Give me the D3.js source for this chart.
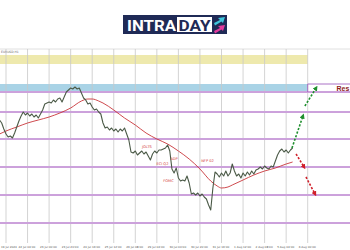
<!DOCTYPE html>
<html>
<head>
<meta charset="utf-8">
<script src="https://cdn.jsdelivr.net/npm/d3@7"></script>
<style>
  body { margin: 0; background: #fff; }
  svg { display: block; }
</style>
</head>
<body>
<div id="chart"></div>
<script>
// closing prices, one per bar, first bar is -3
var firstBar = -3;
var closes = [
  1.0929, 1.0926, 1.0920, 1.0915, 1.0912, 1.0913, 1.0911, 1.0916, 1.0922, 1.0928,
  1.0933, 1.0937, 1.0934, 1.0936, 1.0933, 1.0935, 1.0932, 1.0934, 1.0931, 1.0935,
  1.0939, 1.0945, 1.0946, 1.0947, 1.0946, 1.0949, 1.0947, 1.0950, 1.0951, 1.0947,
  1.0952, 1.0957, 1.0959, 1.0961, 1.0960, 1.0962, 1.0960, 1.0961, 1.0956, 1.0951,
  1.0949, 1.0945, 1.0946, 1.0942, 1.0939, 1.0940, 1.0937, 1.0935, 1.0926, 1.0921,
  1.0922, 1.0919, 1.0921, 1.0918, 1.0920, 1.0917, 1.0920, 1.0918, 1.0921, 1.0915,
  1.0909, 1.0897, 1.0896, 1.0898, 1.0894, 1.0896, 1.0898, 1.0895, 1.0897, 1.0893,
  1.0889, 1.0895, 1.0898, 1.0896, 1.0899, 1.0899, 1.0900, 1.0901, 1.0904, 1.0898,
  1.0880, 1.0876, 1.0881, 1.0871, 1.0868, 1.0869, 1.0868, 1.0873, 1.0866, 1.0855,
  1.0856, 1.0854, 1.0856, 1.0853, 1.0855, 1.0852, 1.0850, 1.0844, 1.0839, 1.0861,
  1.0877, 1.0875, 1.0872, 1.0876, 1.0873, 1.0878, 1.0873, 1.0876, 1.0885, 1.0878,
  1.0873, 1.0875, 1.0871, 1.0876, 1.0873, 1.0877, 1.0874, 1.0878, 1.0875, 1.0879,
  1.0880, 1.0882, 1.0880, 1.0883, 1.0881, 1.0880, 1.0883, 1.0882, 1.0888, 1.0894,
  1.0898, 1.0900, 1.0897, 1.0899, 1.0896, 1.0899, 1.0901
];

// moving average
var maBars = [-3, 0, 5, 10, 15, 20, 25, 30, 35, 38, 40, 43, 45, 50, 55, 60, 65, 70, 75,
  80, 85, 90, 95, 98, 100, 103, 105, 110, 115, 120, 125, 130, 133];
var maValues = [1.0915, 1.0918, 1.0922, 1.0926, 1.0929, 1.0932, 1.0936, 1.0941, 1.0948,
  1.0950, 1.0950, 1.0948, 1.0946, 1.0939, 1.0931, 1.0924, 1.0916, 1.0910, 1.0905,
  1.0898, 1.0890, 1.0880, 1.0868, 1.0863, 1.0861, 1.0862, 1.0864, 1.0869, 1.0874,
  1.0878, 1.0881, 1.0885, 1.0887];

// levels
var levels = [1.0957, 1.0937, 1.0910, 1.0882, 1.0854, 1.0826];
var yellowZone = [1.0985, 1.0994];
var blueZone = [1.0957, 1.0965];

// event notes
var eventNames = ["JOLTS", "ECI Q2", "ADP", "FOMC", "NFP 02"];
var eventBars = [65.4, 72.6, 78, 75.4, 93.5];
var eventPrices = [1.0901, 1.0884, 1.0889, 1.0867, 1.0887];

// projected paths [bar0, price0, bar1, price1]
var upArrows = [[132.7, 1.0901, 137.8, 1.0933], [138.7, 1.0943, 143.9, 1.0961]];
var downArrows = [[134.6, 1.0895, 138.3, 1.0882], [139.2, 1.0872, 143.4, 1.0855]];

var tickBars = d3.range(0, 150, 10);
var tickLabels = ["19 Jul 2024", "22 Jul 04:00", "23 Jul 00:00", "23 Jul 20:00",
  "24 Jul 16:00", "25 Jul 12:00", "26 Jul 08:00", "29 Jul 04:00", "30 Jul 00:00",
  "30 Jul 20:00", "31 Jul 16:00", "1 Aug 12:00", "2 Aug 08:00", "5 Aug 04:00",
  "6 Aug 00:00"];

var width = 350, height = 250;
var chartTop = 49, chartBottom = 243, plotRight = 307.7;

var svg = d3.select('#chart')
  .append('svg')
  .attr('width', width)
  .attr('height', height);

var x = d3.scaleLinear().domain([0, 140]).range([6, plotRight]);
var y = d3.scaleLinear().domain([1.0804, 1.1000]).range([245, 49]);

// logo
var logo = svg.append('g');
logo.append('rect')
  .attr('x', 123).attr('y', 15).attr('width', 104).attr('height', 19)
  .attr('fill', '#1f2a56');
logo.append('text')
  .attr('x', 127).attr('y', 30.5)
  .attr('font-family', 'Roboto, sans-serif').attr('font-weight', 'bold')
  .attr('font-size', 15).attr('fill', '#fff')
  .attr('textLength', 49).attr('lengthAdjust', 'spacingAndGlyphs')
  .text('INTRA');
logo.append('rect')
  .attr('x', 177).attr('y', 17).attr('width', 35).attr('height', 15)
  .attr('fill', '#fff');
logo.append('text')
  .attr('x', 178.5).attr('y', 30.5)
  .attr('font-family', 'Roboto, sans-serif').attr('font-weight', 'bold')
  .attr('font-size', 15).attr('fill', '#1f2a56')
  .attr('textLength', 32).attr('lengthAdjust', 'spacingAndGlyphs')
  .text('DAY');
logo.append('path')
  .attr('d', 'M214,23 L220,20 L218,18 L225,17 L223,23 L221.5,21.5 L215,25.5 Z')
  .attr('fill', '#3fc6dc');
logo.append('path')
  .attr('d', 'M214,31 L220,28 L218,26 L225,25 L223,31 L221.5,29.5 L215,33.5 Z')
  .attr('fill', '#e23a9c');

// top border + symbol caption
svg.append('line')
  .attr('x1', 0).attr('x2', width).attr('y1', chartTop).attr('y2', chartTop)
  .attr('stroke', '#d8d8d8').attr('stroke-width', 0.8);
svg.append('text')
  .attr('x', 1).attr('y', 53)
  .attr('font-family', 'DejaVu Sans, sans-serif').attr('font-size', 3)
  .attr('fill', '#666')
  .text('EURUSD,H1');

// zones
svg.append('rect')
  .attr('x', 0).attr('width', plotRight)
  .attr('y', y(yellowZone[1])).attr('height', y(yellowZone[0]) - y(yellowZone[1]))
  .attr('fill', '#eee9ad');
svg.append('rect')
  .attr('x', 0).attr('width', plotRight)
  .attr('y', y(blueZone[1])).attr('height', y(blueZone[0]) - y(blueZone[1]))
  .attr('fill', '#a9d3e6');

// vertical grid
svg.selectAll('line.vgrid')
  .data(tickBars)
  .enter().append('line')
  .attr('class', 'vgrid')
  .attr('x1', function(d){ return x(d); })
  .attr('x2', function(d){ return x(d); })
  .attr('y1', chartTop).attr('y2', chartBottom)
  .attr('stroke', '#c8c8c8').attr('stroke-width', 0.8);

// x labels
svg.selectAll('text.xlab')
  .data(tickBars)
  .enter().append('text')
  .attr('class', 'xlab')
  .attr('x', function(d){ return Math.max(1, x(d) - 9); })
  .attr('y', 247.5)
  .attr('font-family', 'DejaVu Sans, sans-serif').attr('font-size', 2.8)
  .attr('fill', '#555')
  .text(function(d, i){ return tickLabels[i]; });

// levels
svg.selectAll('line.level')
  .data(levels)
  .enter().append('line')
  .attr('class', 'level')
  .attr('x1', 0).attr('x2', width)
  .attr('y1', function(d){ return y(d); })
  .attr('y2', function(d){ return y(d); })
  .attr('stroke', '#efd6f2').attr('stroke-width', 2);
svg.selectAll('line.level2')
  .data(levels)
  .enter().append('line')
  .attr('class', 'level2')
  .attr('x1', 0).attr('x2', width)
  .attr('y1', function(d){ return y(d); })
  .attr('y2', function(d){ return y(d); })
  .attr('stroke', '#a262c0').attr('stroke-width', 0.9);

// resistance label box
svg.append('line')
  .attr('x1', plotRight).attr('x2', width)
  .attr('y1', y(blueZone[1])).attr('y2', y(blueZone[1]))
  .attr('stroke', '#a262c0').attr('stroke-width', 0.9);
svg.append('line')
  .attr('x1', plotRight).attr('x2', plotRight)
  .attr('y1', y(blueZone[1])).attr('y2', y(blueZone[0]))
  .attr('stroke', '#a262c0').attr('stroke-width', 0.9);
svg.append('text')
  .attr('x', 336.5).attr('y', y(blueZone[0]) - 1.5)
  .attr('font-family', 'Liberation Sans, Arial, sans-serif').attr('font-weight', 'bold')
  .attr('font-size', 7).attr('fill', '#8e1b1b')
  .text('Res');

// moving average
var maLine = d3.line()
  .x(function(d, i){ return x(maBars[i]); })
  .y(function(d){ return y(d); })
  .curve(d3.curveMonotoneX);
svg.append('path')
  .datum(maValues)
  .attr('d', maLine)
  .attr('fill', 'none')
  .attr('stroke', '#c8353a').attr('stroke-width', 0.9);

// price
var priceLine = d3.line()
  .x(function(d, i){ return x(firstBar + i); })
  .y(function(d){ return y(d); });
svg.append('path')
  .datum(closes)
  .attr('d', priceLine)
  .attr('fill', 'none')
  .attr('stroke', '#4b5a47').attr('stroke-width', 1.1)
  .attr('stroke-linejoin', 'round');

// event notes
svg.selectAll('text.event')
  .data(eventNames)
  .enter().append('text')
  .attr('class', 'event')
  .attr('x', function(d, i){ return x(eventBars[i]); })
  .attr('y', function(d, i){ return y(eventPrices[i]); })
  .attr('text-anchor', 'middle')
  .attr('font-family', 'DejaVu Sans, sans-serif').attr('font-size', 3.6)
  .attr('fill', '#d23a35')
  .text(function(d){ return d; });

// arrows
var defs = svg.append('defs');
[['up', '#1f8f2e'], ['down', '#d01f2a']].forEach(function(m){
  defs.append('marker')
    .attr('id', 'head-' + m[0])
    .attr('viewBox', '0 0 10 10')
    .attr('refX', 5).attr('refY', 5)
    .attr('markerWidth', 3.2).attr('markerHeight', 3.2)
    .attr('orient', 'auto')
    .append('path')
    .attr('d', 'M0,0 L10,5 L0,10 Z')
    .attr('fill', m[1]);
});

function drawArrows(list, color, name){
  svg.selectAll('line.arrow-' + name)
    .data(list)
    .enter().append('line')
    .attr('class', 'arrow-' + name)
    .attr('x1', function(d){ return x(d[0]); })
    .attr('y1', function(d){ return y(d[1]); })
    .attr('x2', function(d){ return x(d[2]); })
    .attr('y2', function(d){ return y(d[3]); })
    .attr('stroke', color).attr('stroke-width', 1.6)
    .attr('stroke-dasharray', '2.2,1.6')
    .attr('marker-end', 'url(#head-' + name + ')');
}
drawArrows(upArrows, '#1f8f2e', 'up');
drawArrows(downArrows, '#d01f2a', 'down');
</script>
</body>
</html>
